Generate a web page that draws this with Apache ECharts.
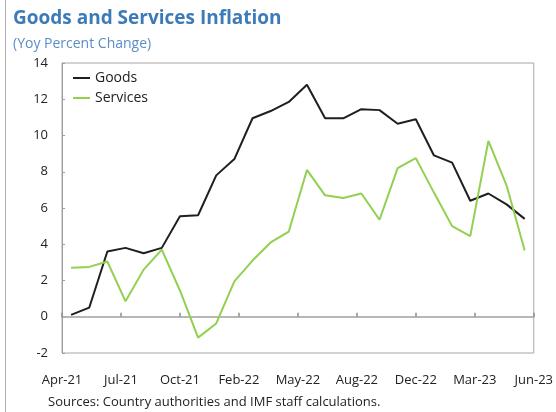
<!DOCTYPE html>
<html>
<head>
<meta charset="utf-8">
<script src="https://cdn.jsdelivr.net/npm/echarts@6/dist/echarts.min.js"></script>
<style>
html,body{margin:0;padding:0;background:#fff;}
#chart{width:556px;height:412px;}
</style>
</head>
<body>
<div id="chart"></div>
<script>
var months = ['Apr-21','May-21','Jun-21','Jul-21','Aug-21','Sep-21','Oct-21','Nov-21','Dec-21','Jan-22','Feb-22','Mar-22','Apr-22','May-22','Jun-22','Jul-22','Aug-22','Sep-22','Oct-22','Nov-22','Dec-22','Jan-23','Feb-23','Mar-23','Apr-23','May-23'];
var goods = [0.1,0.5,3.6,3.8,3.5,3.8,5.55,5.6,7.8,8.7,10.95,11.35,11.85,12.8,10.95,10.95,11.45,11.4,10.65,10.9,8.9,8.5,6.4,6.8,6.2,5.4];
var services = [2.7,2.75,3.05,0.85,2.6,3.7,1.45,-1.15,-0.37,1.95,3.1,4.1,4.7,8.1,6.7,6.55,6.8,5.35,8.2,8.75,6.85,5.0,4.45,9.7,7.25,3.65];
var tickLabels = ['Apr-21','Jul-21','Oct-21','Feb-22','May-22','Aug-22','Dec-22','Mar-23','Jun-23'];
var yTicks = {min:-2, max:14, interval:2};

var chart = echarts.init(document.getElementById('chart'), null, {renderer:'canvas'});
var font = '"Open Sans", "Noto Sans", sans-serif';
var option = {
  backgroundColor:'#fff',
  animation:false,
  textStyle:{fontFamily:font},
  title:[
    {text:'Goods and Services Inflation', left:8, top:4,
     textStyle:{fontFamily:font, fontSize:19, fontWeight:'bold', color:'#3d7bb8'}},
    {text:'(Yoy Percent Change)', left:8, top:32,
     textStyle:{fontFamily:font, fontSize:14, fontWeight:'normal', color:'#5b8dc6'}},
    {text:'Sources: Country authorities and IMF staff calculations.', left:43, top:391,
     textStyle:{fontFamily:font, fontSize:13, fontWeight:'normal', color:'#222'}}
  ],
  graphic:[
    {type:'line', shape:{x1:5.5,y1:0,x2:5.5,y2:412}, style:{stroke:'#b0b0b0', lineWidth:1}}
  ],
  legend:{
    data:['Goods','Services'], orient:'vertical', left:68, top:66,
    icon:'rect', itemWidth:17, itemHeight:2, itemGap:6,
    textStyle:{fontFamily:font, fontSize:14, color:'#222'}
  },
  grid:{left:62, right:20, top:63, bottom:59, show:true, borderColor:'#a6a6a6', borderWidth:1},
  xAxis:[
    {type:'category', data:months, boundaryGap:true, show:false, axisLine:{onZero:false}},
    {type:'value', min:0, max:tickLabels.length-1, interval:1, position:'bottom',
     axisLine:{show:true, onZero:true, onZeroAxisIndex:0, lineStyle:{color:'#a0a0a0', width:1.5}},
     axisTick:{show:true, inside:true, length:4, lineStyle:{color:'#8c8c8c', width:1.5}},
     axisLabel:{show:false}, splitLine:{show:false}},
    {type:'value', min:0, max:tickLabels.length-1, interval:1, position:'bottom',
     axisLine:{show:false, onZero:false}, axisTick:{show:false}, splitLine:{show:false},
     axisLabel:{show:true, margin:21, fontSize:13, color:'#222', fontFamily:font,
       formatter:function(v){return tickLabels[Math.round(v)] || '';}}}
  ],
  yAxis:[{type:'value', min:yTicks.min, max:yTicks.max, interval:yTicks.interval,
    axisLine:{show:true, onZero:false, lineStyle:{color:'#a0a0a0'}},
    axisTick:{show:true, inside:true, length:3, lineStyle:{color:'#a0a0a0'}},
    axisLabel:{margin:14, fontSize:13, color:'#222', fontFamily:font},
    splitLine:{show:false}}],
  series:[
    {name:'Goods', type:'line', data:goods, xAxisIndex:0, showSymbol:false,
     itemStyle:{color:'#1f1f1f'}, lineStyle:{color:'#1f1f1f', width:2}},
    {name:'Services', type:'line', data:services, xAxisIndex:0, showSymbol:false,
     itemStyle:{color:'#92d050'}, lineStyle:{color:'#92d050', width:2}}
  ]
};
chart.setOption(option);
</script>
</body>
</html>
